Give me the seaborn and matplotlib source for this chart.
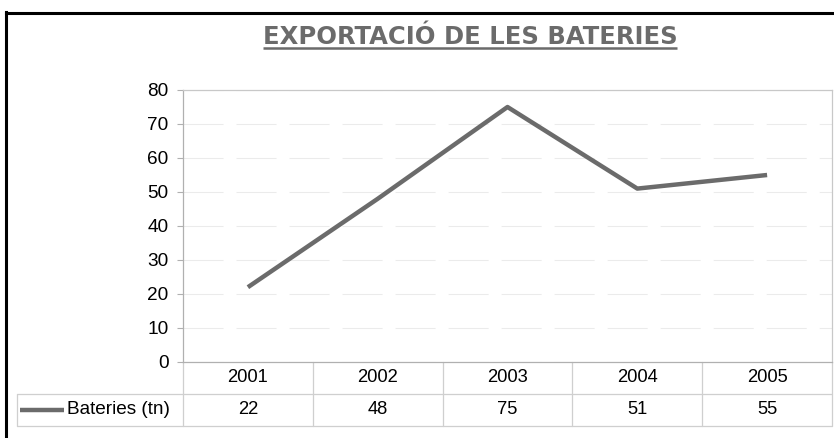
import matplotlib
matplotlib.use("Agg")
import matplotlib.pyplot as plt
from matplotlib.lines import Line2D
import seaborn as sns
import pandas as pd

# Exported batteries per year (tonnes)
years = ["2001", "2002", "2003", "2004", "2005"]
values = [22, 48, 75, 51, 55]
series_name = "Bateries (tn)"
title = "EXPORTACIÓ DE LES BATERIES"
y_ticks = [0, 10, 20, 30, 40, 50, 60, 70, 80]

W, H = 834, 438
DPI = 100
LINE_COLOR = "#6b6b6b"
GRID_COLOR = "#ebebeb"
AXIS_COLOR = "#b0b0b0"
TABLE_COLOR = "#cfcfcf"
FONT = "Liberation Sans"
FS = 13.2

sns.set_theme(style="white")
plt.rcParams["font.family"] = [FONT, "DejaVu Sans"]

df = pd.DataFrame({"pos": range(len(years)), "year": years, "value": values})

fig = plt.figure(figsize=(W / DPI, H / DPI), dpi=DPI)
fig.patch.set_facecolor("white")

# plot area in pixel coordinates
px_left, px_right, px_top, px_bottom = 183, 832, 90, 362
ax = fig.add_axes([px_left / W, (H - px_bottom) / H,
                   (px_right - px_left) / W, (px_bottom - px_top) / H])

sns.lineplot(data=df, x="pos", y="value", ax=ax, color=LINE_COLOR,
             linewidth=3.2, solid_capstyle="butt", legend=False)

ax.set_xlim(-0.5, len(years) - 0.5)
ax.set_ylim(0, 80)
ax.set_yticks(y_ticks)
ax.set_yticklabels([str(t) for t in y_ticks], fontsize=FS + 0.5, color="black",
                   fontfamily=FONT)
ax.set_xticks([])
ax.set_xlabel("")
ax.set_ylabel("")
ax.tick_params(axis="y", length=4.3, width=0.8, color=AXIS_COLOR, pad=6.0, left=True)

ax.yaxis.grid(True, color=GRID_COLOR, linewidth=0.75,
              linestyle=(0, (38.4, 12.5)))
ax.set_axisbelow(True)
for side in ["left", "bottom", "top", "right"]:
    ax.spines[side].set_visible(True)
    ax.spines[side].set_color(AXIS_COLOR if side in ("left", "bottom") else "#c8c8c8")
    ax.spines[side].set_linewidth(0.9)

# data table beneath the plot
ah = px_bottom - px_top
aw = px_right - px_left
row1 = -(394 - px_bottom) / ah
row2 = -(426 - px_bottom) / ah
left_edge = (17 - px_left) / aw
kw = dict(transform=ax.transAxes, clip_on=False, color=TABLE_COLOR, linewidth=0.9)

ax.add_line(Line2D([left_edge, 1], [row1, row1], **kw))
ax.add_line(Line2D([left_edge, 1], [row2, row2], **kw))
ax.add_line(Line2D([left_edge, left_edge], [row1, row2], **kw))
ax.add_line(Line2D([0, 0], [0, row2], **kw))
ncat = len(years)
for i in range(1, ncat + 1):
    xf = i / ncat
    ax.add_line(Line2D([xf, xf], [0, row2], **kw))

for i, (yr, v) in enumerate(zip(years, values)):
    xc = (i + 0.5) / ncat
    ax.text(xc, row1 / 2, yr, transform=ax.transAxes, ha="center", va="center",
            fontsize=FS, color="black", fontfamily=FONT)
    ax.text(xc, (row1 + row2) / 2, str(v), transform=ax.transAxes, ha="center",
            va="center", fontsize=FS, color="black", fontfamily=FONT)

# legend key inside the table
ymid = (row1 + row2) / 2
ax.add_line(Line2D([(20 - px_left) / aw, (64 - px_left) / aw], [ymid, ymid],
                   transform=ax.transAxes, clip_on=False, color=LINE_COLOR,
                   linewidth=3.2, solid_capstyle="butt"))
ax.text((67 - px_left) / aw, ymid, series_name, transform=ax.transAxes,
        ha="left", va="center", fontsize=FS + 0.5, color="black", fontfamily=FONT)

# outer chart frame (left and top edges)
fig.add_artist(Line2D([6 / W, 6 / W], [0, 1 - 12 / H], transform=fig.transFigure,
                      color="black", linewidth=2.2, solid_capstyle="projecting"))
fig.add_artist(Line2D([6 / W, 1], [1 - 13 / H, 1 - 13 / H], transform=fig.transFigure,
                      color="black", linewidth=2.2, solid_capstyle="projecting"))

# underlined title
t = fig.text(470 / W, 1 - 44 / H, title, ha="center", va="baseline",
             fontsize=17.5, fontweight="bold", color=LINE_COLOR,
             fontfamily="DejaVu Sans")
fig.canvas.draw()
bb = t.get_window_extent(renderer=fig.canvas.get_renderer())
uy = 1 - 48 / H
fig.add_artist(Line2D([bb.x0 / W, bb.x1 / W], [uy, uy], transform=fig.transFigure,
                      color=LINE_COLOR, linewidth=1.8, solid_capstyle="butt"))

fig.savefig("out.png", dpi=DPI, facecolor="white")
